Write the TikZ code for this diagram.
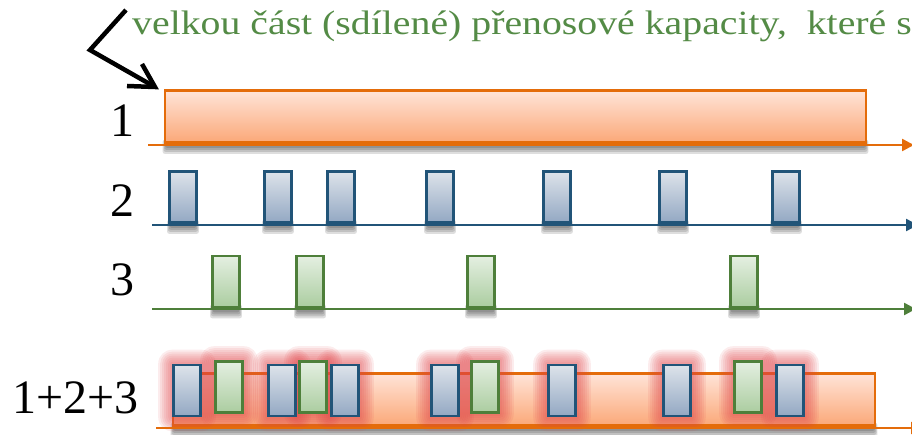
\documentclass[tikz,border=0pt]{standalone}
\usepackage{fontspec}
\setmainfont{Liberation Serif}
\newfontfamily\toptext[FakeStretch=1.17]{Liberation Serif}
\usetikzlibrary{arrows.meta,calc}
\pgfdeclarelayer{shadowlayer}
\pgfdeclarelayer{barlayer}
\pgfdeclarelayer{glowlayer}
\pgfsetlayers{shadowlayer,barlayer,glowlayer,main}
\definecolor{ob}{HTML}{E46C0A}
\definecolor{ot}{HTML}{FFE4D8}
\definecolor{obot}{HTML}{FBA878}
\definecolor{bb}{HTML}{215478}
\definecolor{bt}{HTML}{DDE3EA}
\definecolor{bbot}{HTML}{93A8C3}
\definecolor{gb}{HTML}{4E7F3A}
\definecolor{gt}{HTML}{E4EFE1}
\definecolor{gbot}{HTML}{ABCDA0}
\definecolor{tg}{HTML}{548B46}
\definecolor{glowc}{HTML}{E0464A}
\tikzset{
  box/.style={rectangle, inner sep=0pt, line width=2.6pt, minimum width=27pt, minimum height=51pt},
  bluebox/.style={box, draw=bb, top color=bt, bottom color=bbot},
  greenbox/.style={box, draw=gb, top color=gt, bottom color=gbot},
  orangebar/.style={rectangle, inner sep=0pt, line width=2.6pt, draw=ob, top color=ot, bottom color=obot, minimum height=52pt},
  axis/.style={line width=2.4pt, -{Triangle[length=12pt,width=12pt]}},
  lbl/.style={font=\fontsize{48}{50}\selectfont, anchor=base east, inner sep=0pt},
  pointer/.style={line width=4.5pt, line join=miter},
}
\newcommand\boxshadow[1]{%
  \begin{pgfonlayer}{shadowlayer}
    \foreach \d in {0,2,4,6}{
      \fill[black,opacity=.13,rounded corners=2pt]
        ($(#1.south west)+(\d*0.4-1,-4)$) rectangle ($(#1.south east)+(1-\d*0.4,10-\d)$);
    }
  \end{pgfonlayer}}
\newcommand\boxglow[1]{%
  \begin{pgfonlayer}{glowlayer}
    \foreach \d in {2,4,...,14}{
      \fill[glowc,opacity=.1,rounded corners=\d pt]
        ($(#1.south west)+(-\d,\d)$) rectangle ($(#1.north east)+(\d,-\d)$);
    }
  \end{pgfonlayer}}
\begin{document}
\begin{tikzpicture}[x=1pt,y=-1pt]
  \useasboundingbox (0,0) rectangle (912,435);
  \clip (0,0) rectangle (912,435);

  % top text and bent arrow
  \node[anchor=base west, inner sep=0pt, text=tg, font=\toptext\fontsize{34}{36}\selectfont]
    (title) at (132,35) {velkou část (sdílené) přenosové kapacity,\ \ které se};
  \coordinate (p0) at (126,10);
  \coordinate (p1) at (90,50);
  \coordinate (p2) at (155,87);
  \coordinate (h1) at (142,64);
  \coordinate (h2) at (127,86);
  \draw[pointer] (p0) -- (p1) -- (p2);
  \draw[pointer] (h1) -- (p2) -- (h2);

  % row 1
  \node[lbl] (l1) at (135,137) {1};
  \node[orangebar, minimum width=701pt] (bar1) at (515.5,116.5) {};
  \boxshadow{bar1}
  \coordinate (a1s) at (148,145);
  \coordinate (a1e) at (914,145);
  \draw[axis, ob] (a1s) -- (a1e);

  % row 2
  \node[lbl] (l2) at (135,217) {2};
  \foreach \x [count=\i] in {183,278,341,440,557,673,786}{
    \node[bluebox] (r2b\i) at (\x,197) {};
    \boxshadow{r2b\i}
  }
  \coordinate (a2s) at (152,225);
  \coordinate (a2e) at (918,225);
  \draw[axis, bb] (a2s) -- (a2e);

  % row 3
  \node[lbl] (l3) at (135,295) {3};
  \foreach \x [count=\i] in {226,310,481,744}{
    \node[greenbox] (r3g\i) at (\x,281.5) {};
    \boxshadow{r3g\i}
  }
  \coordinate (a3s) at (152,309);
  \coordinate (a3e) at (916,309);
  \draw[axis, gb] (a3s) -- (a3e);

  % row 4
  \node[lbl] (l4) at (139,413) {1+2+3};
  \begin{pgfonlayer}{barlayer}
    \node[orangebar, minimum width=702pt] (bar4) at (524,399.5) {};
  \end{pgfonlayer}
  \boxshadow{bar4}
  \foreach \x [count=\i] in {187,282,345,445,562,677,790}{
    \node[bluebox] (r4b\i) at (\x,390.5) {};
    \boxglow{r4b\i}
  }
  \foreach \x [count=\i] in {229,313,485,748}{
    \node[greenbox] (r4g\i) at (\x,387) {};
    \boxglow{r4g\i}
  }
  \coordinate (a4s) at (156,428);
  \coordinate (a4e) at (923,428);
  \draw[axis, ob] (a4s) -- (a4e);
\end{tikzpicture}
\end{document}
